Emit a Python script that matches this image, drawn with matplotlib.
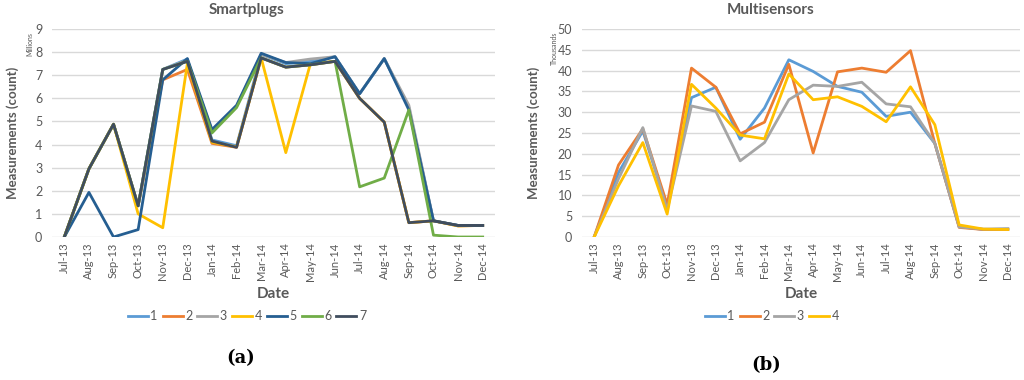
import numpy as np
import matplotlib
matplotlib.use('Agg')
import matplotlib.pyplot as plt

plt.rcParams['font.family'] = ['Lato', 'DejaVu Sans']

MONTHS = ["Jul-13", "Aug-13", "Sep-13", "Oct-13", "Nov-13", "Dec-13",
          "Jan-14", "Feb-14", "Mar-14", "Apr-14", "May-14", "Jun-14",
          "Jul-14", "Aug-14", "Sep-14", "Oct-14", "Nov-14", "Dec-14"]

# Smartplugs (millions)
plug_1 = [0, 2.95, 4.88, 1.35, 7.25, 7.70, 4.20, 3.95, 7.90, 7.50, 7.60, 7.80, 6.20, 7.72, 5.60, 0.70, 0.50, 0.50]
plug_2 = [0, 2.95, 4.88, 1.35, 6.80, 7.25, 4.05, 3.88, 7.75, 7.35, 7.45, 7.60, 6.00, 4.97, 0.62, 0.70, 0.48, 0.50]
plug_3 = [0, 2.95, 4.88, 1.35, 7.25, 7.65, 4.60, 5.65, 7.90, 7.55, 7.70, 7.80, 6.20, 7.72, 5.70, 0.70, 0.50, 0.50]
plug_4 = [0, 2.95, 4.88, 1.00, 0.40, 7.50, 4.10, 3.90, 7.75, 3.65, 7.50, 7.60, 6.00, 4.97, 0.62, 0.70, 0.48, 0.50]
plug_5 = [0, 1.93, 0.00, 0.32, 6.80, 7.72, 4.65, 5.70, 7.95, 7.55, 7.50, 7.80, 6.20, 7.72, 5.50, 0.70, 0.50, 0.50]
plug_6 = [0, 2.95, 4.88, 1.35, 7.25, 7.60, 4.50, 5.60, 7.75, 7.35, 7.45, 7.60, 2.17, 2.55, 5.50, 0.08, 0.00, 0.00]
plug_7 = [0, 2.95, 4.88, 1.35, 7.25, 7.60, 4.15, 3.88, 7.75, 7.35, 7.45, 7.60, 6.00, 4.97, 0.62, 0.70, 0.50, 0.50]

# Multisensors (thousands)
ms_1 = [0, 15.5, 25.5, 7.0, 33.5, 36.0, 23.5, 31.0, 42.6, 39.8, 36.2, 34.8, 29.0, 30.0, 22.5, 2.5, 1.8, 1.9]
ms_2 = [0, 17.3, 26.0, 7.8, 40.6, 36.0, 24.8, 27.6, 41.5, 20.2, 39.7, 40.6, 39.6, 44.8, 22.5, 2.3, 1.8, 1.8]
ms_3 = [0, 14.0, 26.3, 6.5, 31.5, 30.2, 18.3, 22.7, 33.0, 36.5, 36.2, 37.2, 32.0, 31.3, 22.5, 2.4, 1.9, 2.0]
ms_4 = [0, 12.3, 22.7, 5.5, 36.7, 31.0, 24.5, 23.6, 39.2, 33.0, 33.7, 31.4, 27.7, 36.1, 27.0, 2.9, 1.9, 1.8]

COLORS = ['#5B9BD5', '#ED7D31', '#A5A5A5', '#FFC000', '#255E91', '#70AD47', '#404D5E']
GREY = '#595959'
GRID = '#D9D9D9'


def draw_panel(ax, series, ymax, ystep, legend_x, ylabel_x):
	x = np.arange(len(MONTHS))
	for i, s in enumerate(series):
		ax.plot(x, s, color=COLORS[i], lw=2.0, label=str(i + 1))
	ax.set_xlim(-0.5, len(MONTHS) - 0.5)
	ax.set_ylim(0, ymax)
	ax.set_yticks(np.arange(0, ymax + 0.1, ystep))
	ax.set_xticks(x)
	ax.set_xticklabels(MONTHS, rotation=90, fontsize=8, color=GREY)
	ax.tick_params(axis='y', labelsize=9, colors=GREY, length=0, pad=7)
	ax.tick_params(axis='x', length=0, pad=4)
	ax.grid(axis='y', color=GRID, lw=1)
	ax.set_axisbelow(True)
	for sp in ax.spines.values():
		sp.set_visible(False)
	ax.set_xlabel('Date', fontsize=11, fontweight='bold', color=GREY, labelpad=4)
	ax.set_ylabel('Measurements (count)', fontsize=9.5, fontweight='bold', color=GREY)
	ax.yaxis.set_label_coords(ylabel_x, 0.5)
	ax.legend(loc='center', bbox_to_anchor=(legend_x, 1 - 316 / 380), bbox_transform=fig.transFigure,
		ncol=len(series), frameon=False, fontsize=9, handlelength=1.6, handletextpad=0.2,
		columnspacing=0.4, labelcolor=GREY)


fig = plt.figure(figsize=(10.24, 3.8), dpi=100)
ax1 = fig.add_axes([52 / 1024, 1 - 237 / 380, (495 - 52) / 1024, 208 / 380])
ax2 = fig.add_axes([582 / 1024, 1 - 237 / 380, (1020 - 582) / 1024, 208 / 380])

draw_panel(ax1, [plug_1, plug_2, plug_3, plug_4, plug_5, plug_6, plug_7], 9, 1, 247 / 1024, (19 - 52) / 443)
draw_panel(ax2, [ms_1, ms_2, ms_3, ms_4], 50, 5, 772 / 1024, (540 - 582) / 438)

fig.text(247 / 1024, 1 - 10 / 380, 'Smartplugs', ha='center', va='center', fontsize=11, fontweight='bold', color=GREY)
fig.text(771 / 1024, 1 - 10 / 380, 'Multisensors', ha='center', va='center', fontsize=11, fontweight='bold', color=GREY)
fig.text(30 / 1024, 1 - 44 / 380, 'Millions', rotation=90, ha='center', va='center', fontsize=5, color=GREY)
fig.text(554 / 1024, 1 - 48 / 380, 'Thousands', rotation=90, ha='center', va='center', fontsize=5, color=GREY)
fig.text(241 / 1024, 1 - 358 / 380, '(a)', ha='center', va='center', fontsize=13, fontweight='bold', family='DejaVu Serif')
fig.text(766 / 1024, 1 - 365 / 380, '(b)', ha='center', va='center', fontsize=13, fontweight='bold', family='DejaVu Serif')

fig.savefig('out.png', dpi=100)
plt.close(fig)
